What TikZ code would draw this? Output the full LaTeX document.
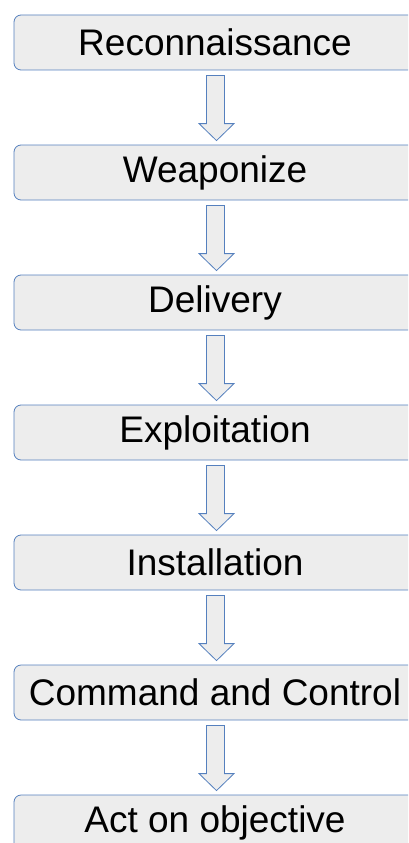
\documentclass[tikz,border=0pt]{standalone}
\usepackage{fontspec}
\setmainfont{Liberation Sans}
\usetikzlibrary{calc}
\definecolor{stageline}{HTML}{5580BE}
\definecolor{stagefill}{HTML}{EDEDED}
\tikzset{
  stagebox/.style={draw=stageline, fill=stagefill, line width=0.8pt,
    rounded corners=7pt, minimum width=402pt, minimum height=55pt,
    inner sep=0pt, font=\fontsize{37}{40}\selectfont},
  blockarrow/.style={draw=stageline, fill=stagefill, line width=0.8pt, line join=miter}
}
% hollow block arrow between two stages
\newcommand{\stagearrow}[2]{%
  \draw[blockarrow]
    ($(#1.south)+(-8.5pt,-5pt)$) -- ($(#1.south)+(9.5pt,-5pt)$)
    -- ($(#2.north)+(9.5pt,21pt)$) -- ($(#2.north)+(19pt,21pt)$)
    -- ($(#2.north)+(1.5pt,4pt)$) -- ($(#2.north)+(-16pt,21pt)$)
    -- ($(#2.north)+(-8.5pt,21pt)$) -- cycle;}
\begin{document}
\begin{tikzpicture}[x=1pt,y=1pt]
  \useasboundingbox (0,0) rectangle (408,-843);
  \begin{scope}
    \clip (0,0) rectangle (408,-843);
    \node[stagebox] (s1) at (215,-42.5)  {Reconnaissance};
    \node[stagebox] (s2) at (215,-172.5) {Weaponize};
    \node[stagebox] (s3) at (215,-302.5) {Delivery};
    \node[stagebox] (s4) at (215,-432.5) {Exploitation};
    \node[stagebox] (s5) at (215,-562.5) {Installation};
    \node[stagebox] (s6) at (215,-692.5) {Command and Control};
    \node[stagebox] (s7) at (215,-822.5) {Act on objective};
    \stagearrow{s1}{s2}
    \stagearrow{s2}{s3}
    \stagearrow{s3}{s4}
    \stagearrow{s4}{s5}
    \stagearrow{s5}{s6}
    \stagearrow{s6}{s7}
  \end{scope}
\end{tikzpicture}
\end{document}
